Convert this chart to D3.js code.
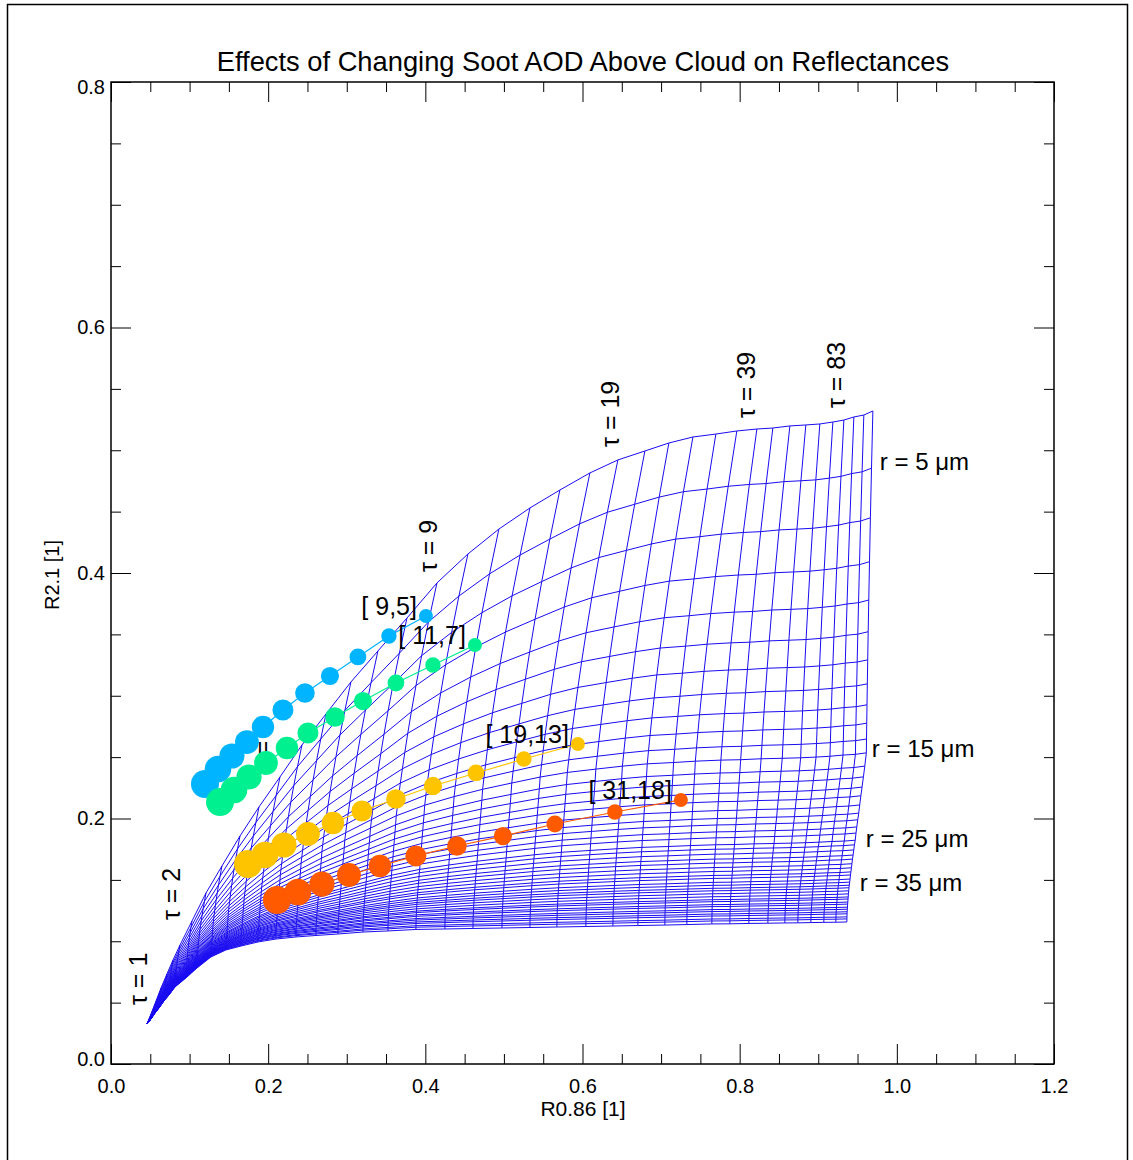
<!DOCTYPE html>
<html>
<head>
<meta charset="utf-8">
<script src="https://cdn.jsdelivr.net/npm/d3@7"></script>
<style>
  body { margin: 0; background: #fff; }
  text { font-family: "Liberation Sans", Arial, Helvetica, sans-serif; fill: #000; }
</style>
</head>
<body>
<svg id="chart"></svg>
<script>
// ---- look-up table (R0.86 vs R2.1 for cloud optical thickness tau and effective radius r)

var tauVals = [1.0, 1.1, 1.3, 1.4, 1.6, 1.8, 2.0, 2.3, 2.6, 2.9, 3.3, 3.7, 4.2, 4.8, 5.4, 6.1, 6.9, 7.9, 9.0, 10.2,
               11.5, 13.1, 14.8, 16.8, 19.0, 21.5, 24.4, 27.6, 31.2, 35.3, 39.0, 44.3, 50.2, 56.8, 64.3, 72.9, 83.0, 93.8, 106.2, 120.3];
var rVals = d3.range(4, 51);   // 4 .. 50 um, one line per micron

// r = 4 um edge of every tau line
var topR086 = [0.0458, 0.0509, 0.0573, 0.0636, 0.0712, 0.0789, 0.0878, 0.1031, 0.1209, 0.1412,
               0.1641, 0.1883, 0.2150, 0.2430, 0.2735, 0.3053, 0.3397, 0.3766, 0.4148, 0.4542,
               0.4936, 0.5331, 0.5712, 0.6094, 0.6450, 0.6794, 0.7099, 0.7405, 0.7697, 0.7964,
               0.8219, 0.8422, 0.8639, 0.8842, 0.9020, 0.9186, 0.9326, 0.9453, 0.9580, 0.9695];
var topR21  = [0.0326, 0.0407, 0.0513, 0.0619, 0.0733, 0.0847, 0.0969, 0.1165, 0.1393, 0.1613,
               0.1857, 0.2094, 0.2338, 0.2599, 0.2851, 0.3112, 0.3365, 0.3633, 0.3919, 0.4155,
               0.4358, 0.4530, 0.4676, 0.4815, 0.4921, 0.4994, 0.5059, 0.5108, 0.5132, 0.5157,
               0.5173, 0.5181, 0.5198, 0.5206, 0.5214, 0.5230, 0.5246, 0.5271, 0.5287, 0.5320];
// r = 15 um, R0.86 only
var midR086 = [0.0458, 0.0509, 0.0562, 0.0615, 0.0681, 0.0747, 0.0826, 0.0967, 0.1113, 0.1296,
               0.1494, 0.1693, 0.1917, 0.2155, 0.2419, 0.2684, 0.2975, 0.3302, 0.3630, 0.3992,
               0.4366, 0.4729, 0.5100, 0.5461, 0.5807, 0.6170, 0.6508, 0.6824, 0.7159, 0.7436,
               0.7761, 0.8013, 0.8273, 0.8542, 0.8776, 0.8972, 0.9149, 0.9315, 0.9473, 0.9612];
// r = 50 um edge
var botR086 = [0.0458, 0.0509, 0.0560, 0.0611, 0.0674, 0.0738, 0.0814, 0.0954, 0.1094, 0.1272,
               0.1463, 0.1654, 0.1870, 0.2099, 0.2354, 0.2608, 0.2888, 0.3206, 0.3524, 0.3880,
               0.4249, 0.4606, 0.4975, 0.5331, 0.5674, 0.6043, 0.6387, 0.6705, 0.7048, 0.7328,
               0.7646, 0.7875, 0.8117, 0.8359, 0.8575, 0.8740, 0.8906, 0.9071, 0.9224, 0.9364];
var botR21  = [0.0326, 0.0367, 0.0415, 0.0456, 0.0513, 0.0562, 0.0627, 0.0701, 0.0782, 0.0872,
               0.0929, 0.0961, 0.0994, 0.1018, 0.1035, 0.1047, 0.1059, 0.1075, 0.1084, 0.1096,
               0.1100, 0.1104, 0.1108, 0.1112, 0.1116, 0.1120, 0.1124, 0.1128, 0.1132, 0.1136,
               0.1141, 0.1142, 0.1145, 0.1147, 0.1149, 0.1150, 0.1152, 0.1154, 0.1155, 0.1157];
// where each radius sits between the edges
var rFracR21  = [0, 0.112, 0.209, 0.295, 0.370, 0.432, 0.487, 0.534, 0.575, 0.611, 0.642, 0.669, 0.695, 0.716, 0.736, 0.753,
                 0.771, 0.787, 0.800, 0.814, 0.826, 0.840, 0.849, 0.859, 0.869, 0.877, 0.886, 0.894, 0.902, 0.908, 0.916,
                 0.922, 0.928, 0.933, 0.939, 0.945, 0.951, 0.955, 0.961, 0.965, 0.971, 0.975, 0.980, 0.984, 0.990, 0.994, 1];
// R0.86: r = 4..15 between top and mid, r = 15..50 between mid and bottom
var rFracA = [0, 0.208, 0.377, 0.516, 0.629, 0.717, 0.790, 0.849, 0.899, 0.939, 0.972, 1];
var rFracB = [0, 0.08, 0.15, 0.22, 0.28, 0.34, 0.39, 0.44, 0.49, 0.53, 0.57, 0.61, 0.645, 0.68, 0.71, 0.74, 0.765, 0.79,
              0.815, 0.835, 0.855, 0.875, 0.89, 0.905, 0.92, 0.93, 0.94, 0.95, 0.96, 0.968, 0.976, 0.983, 0.989, 0.994, 0.998, 1];

// ---- soot AOD runs, first point = clean cloud [tau, r]
var aodVals = [0, 0.1, 0.2, 0.3, 0.4, 0.5, 0.6, 0.7, 0.8, 0.9, 1.0];
var runNames = ["[ 9,5]", "[ 11,7]", "[ 19,13]", "[ 31,18]"];
var runR086 = [
  [0.4008, 0.3537, 0.3142, 0.2786, 0.2468, 0.2188, 0.1934, 0.1730, 0.1539, 0.1361, 0.1196],
  [0.4631, 0.4097, 0.3626, 0.3206, 0.2850, 0.2506, 0.2239, 0.1972, 0.1756, 0.1565, 0.1387],
  [0.5941, 0.5254, 0.4644, 0.4097, 0.3626, 0.3193, 0.2824, 0.2506, 0.2201, 0.1959, 0.1743],
  [0.7252, 0.6412, 0.5649, 0.4987, 0.4402, 0.3880, 0.3422, 0.3028, 0.2684, 0.2379, 0.2112]
];
var runR21 = [
  [0.3650, 0.3487, 0.3316, 0.3161, 0.3022, 0.2884, 0.2745, 0.2623, 0.2509, 0.2403, 0.2281],
  [0.3413, 0.3251, 0.3104, 0.2957, 0.2827, 0.2697, 0.2574, 0.2452, 0.2338, 0.2232, 0.2134],
  [0.2607, 0.2485, 0.2371, 0.2265, 0.2159, 0.2061, 0.1963, 0.1874, 0.1784, 0.1703, 0.1629],
  [0.2151, 0.2053, 0.1955, 0.1857, 0.1776, 0.1695, 0.1613, 0.1540, 0.1466, 0.1401, 0.1336]
];
var runColors = ["#00b4ff", "#00f090", "#ffc400", "#ff5a00"];

// ---- annotations
var tauLabels = ["τ = 1", "τ = 2", "τ = 4", "τ = 9", "τ = 19", "τ = 39", "τ = 83"];
var tauLabelR086 = [0.0458, 0.0878, 0.2036, 0.4148, 0.6463, 0.8193, 0.9338];
var tauLabelR21  = [0.0481, 0.1173, 0.2379, 0.4008, 0.5027, 0.5263, 0.5344];
var rLabels = ["r = 5 μm", "r = 15 μm", "r = 25 μm", "r = 35 μm"];
var rLabelR086 = [0.9784, 0.9682, 0.9606, 0.9529];
var rLabelR21  = [0.4904, 0.2566, 0.1833, 0.1475];

var xTicks = [0, 0.2, 0.4, 0.6, 0.8, 1.0, 1.2];
var yTicks = [0, 0.2, 0.4, 0.6, 0.8];

// ===============================================

var svgWidth = 1133, svgHeight = 1160;
var svg = d3.select('#chart')
    .attr('width', svgWidth)
    .attr('height', svgHeight);

// outer frame of the page
svg.append('rect')
    .attr('x', 7.5).attr('y', 4.5)
    .attr('width', 1120).attr('height', 1180)
    .attr('fill', 'none').attr('stroke', '#000').attr('stroke-width', 1.5);

var xScale = d3.scaleLinear().domain([0, 1.2]).range([111, 1054]);
var yScale = d3.scaleLinear().domain([0, 0.8]).range([1064, 82]);

// mesh nodes
var jMid = 11;   // index of r = 15 um
function node(i, j) {
    var x = j <= jMid
        ? topR086[i] + rFracA[j] * (midR086[i] - topR086[i])
        : midR086[i] + rFracB[j - jMid] * (botR086[i] - midR086[i]);
    return [x, topR21[i] + rFracR21[j] * (botR21[i] - topR21[i])];
}
var rLines = rVals.map(function (r, j) {
    return tauVals.map(function (t, i) { return node(i, j); });
});
var tauLines = tauVals.map(function (t, i) {
    return rVals.map(function (r, j) { return node(i, j); });
});

var line = d3.line()
    .x(function (d) { return xScale(d[0]); })
    .y(function (d) { return yScale(d[1]); });

var mesh = svg.append('g').attr('fill', 'none').attr('stroke', '#1a0cf0').attr('stroke-width', 1);
mesh.selectAll('path.r').data(rLines).enter().append('path').attr('class', 'r').attr('d', line);
mesh.selectAll('path.t').data(tauLines).enter().append('path').attr('class', 't').attr('d', line);

// tau labels, rotated
svg.selectAll('text.tau')
    .data(tauLabels)
    .enter()
    .append('text')
    .attr('class', 'tau')
    .attr('transform', function (d, i) {
        return 'translate(' + xScale(tauLabelR086[i]) + ',' + yScale(tauLabelR21[i]) + ') rotate(-90)';
    })
    .attr('font-size', 25)
    .text(function (d) { return d; });

svg.selectAll('text.rlab')
    .data(rLabels)
    .enter()
    .append('text')
    .attr('class', 'rlab')
    .attr('x', function (d, i) { return xScale(rLabelR086[i]); })
    .attr('y', function (d, i) { return yScale(rLabelR21[i]); })
    .attr('dy', '0.35em')
    .attr('font-size', 24)
    .text(function (d) { return d; });

// AOD runs
var rScale = d3.scaleLinear().domain([0, 1]).range([7, 14]);
runNames.forEach(function (name, k) {
    var pts = aodVals.map(function (a, i) { return [runR086[k][i], runR21[k][i], a]; });
    var g = svg.append('g');
    g.append('path')
        .attr('d', line(pts))
        .attr('fill', 'none')
        .attr('stroke', runColors[k])
        .attr('stroke-width', 1.2);
    g.selectAll('circle')
        .data(pts.slice().reverse())
        .enter()
        .append('circle')
        .attr('cx', function (d) { return xScale(d[0]); })
        .attr('cy', function (d) { return yScale(d[1]); })
        .attr('r', function (d) { return rScale(d[2]); })
        .attr('fill', runColors[k]);
});
runNames.forEach(function (name, k) {
    svg.append('text')
        .attr('x', xScale(runR086[k][0]) - 9)
        .attr('y', yScale(runR21[k][0]) - 1)
        .attr('text-anchor', 'end')
        .attr('font-size', 25)
        .style('white-space', 'pre')
        .text(name);
});

// axes, ticks point inward on all four sides
var xMinor = d3.range(0, 1.2001, 0.05).filter(function (v) { return Math.abs(v * 5 - Math.round(v * 5)) > 1e-6; });
var yMinor = d3.range(0, 0.8001, 0.05).filter(function (v) { return Math.abs(v * 5 - Math.round(v * 5)) > 1e-6; });

function axis(gen, scale, vals, len, pad, fmt, tr) {
    var a = gen(scale).tickValues(vals).tickSizeInner(-len).tickSizeOuter(0).tickPadding(pad)
        .tickFormat(fmt ? d3.format('.1f') : '');
    var g = svg.append('g').attr('transform', tr).call(a);
    g.select('.domain').remove();
    g.selectAll('line').attr('stroke', '#000').attr('stroke-width', 1);
    g.selectAll('text').attr('font-size', 20).attr('font-family', null);
    return g;
}
axis(d3.axisBottom, xScale, xTicks, 20, 15, true, 'translate(0,1064)');
axis(d3.axisBottom, xScale, xMinor, 10, 0, false, 'translate(0,1064)');
axis(d3.axisTop, xScale, xTicks, 20, 0, false, 'translate(0,82)');
axis(d3.axisTop, xScale, xMinor, 10, 0, false, 'translate(0,82)');
var yAx = axis(d3.axisLeft, yScale, yTicks, 20, 6, true, 'translate(111,0)');
axis(d3.axisLeft, yScale, yMinor, 10, 0, false, 'translate(111,0)');
axis(d3.axisRight, yScale, yTicks, 20, 0, false, 'translate(1054,0)');
axis(d3.axisRight, yScale, yMinor, 10, 0, false, 'translate(1054,0)');
// end labels sit just inside the frame
yAx.selectAll('.tick text').attr('dy', function (d) { return d === 0 ? '0.05em' : (d === 0.8 ? '0.55em' : '0.32em'); });

svg.append('rect')
    .attr('x', 111).attr('y', 82)
    .attr('width', 943).attr('height', 982)
    .attr('fill', 'none').attr('stroke', '#000').attr('stroke-width', 1.5);

// titles
svg.append('text')
    .attr('x', 583).attr('y', 71)
    .attr('text-anchor', 'middle')
    .attr('font-size', 27.3)
    .text('Effects of Changing Soot AOD Above Cloud on Reflectances');

svg.append('text')
    .attr('x', 583).attr('y', 1116)
    .attr('text-anchor', 'middle')
    .attr('font-size', 21)
    .text('R0.86 [1]');

svg.append('text')
    .attr('transform', 'translate(59,575) rotate(-90)')
    .attr('text-anchor', 'middle')
    .attr('font-size', 20)
    .text('R2.1 [1]');
</script>
</body>
</html>
